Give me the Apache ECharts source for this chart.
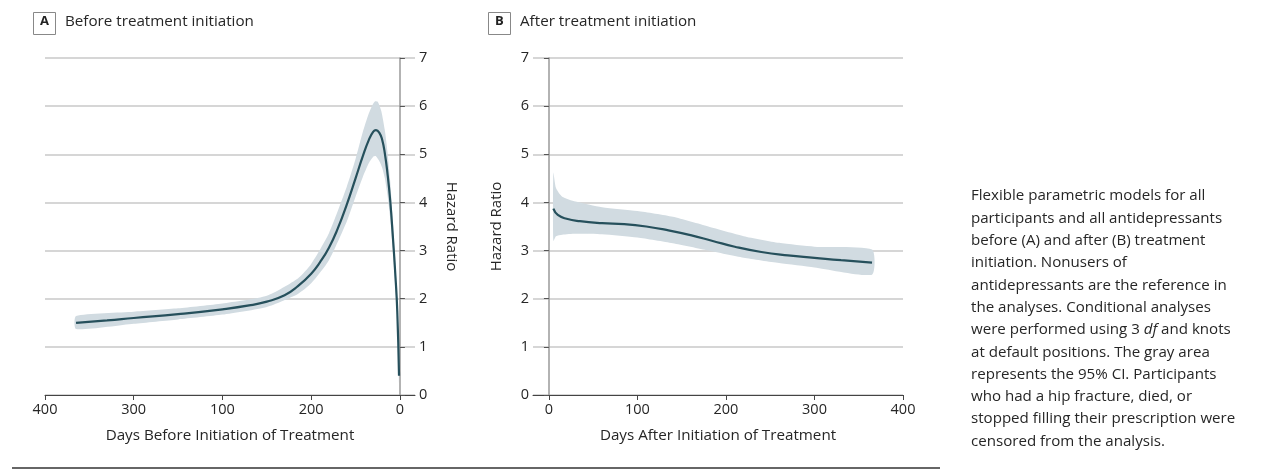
<!DOCTYPE html>
<html>
<head>
<meta charset="utf-8">
<script src="https://cdn.jsdelivr.net/npm/echarts@6/dist/echarts.min.js"></script>
<style>
  html, body { margin: 0; padding: 0; background: #fff; }
  #chart { width: 1267px; height: 469px; }
</style>
</head>
<body>
<div id="chart"></div>
<script>
// panel A: days before treatment, hazard ratio
var beforeLine = [[365,1.50],[330,1.55],[300,1.60],[250,1.68],[200,1.78],[170,1.86],[150,1.94],[130,2.07],[115,2.26],[100,2.52],[90,2.76],[80,3.06],[70,3.46],[60,3.95],[50,4.50],[42,4.95],[35,5.30],[30,5.47],[27,5.50],[23,5.44],[20,5.30],[17,5.02],[14,4.60],[11,4.05],[8,3.30],[5,2.45],[3,1.75],[1,0.40]];
var beforeUpper = [[365,1.64],[300,1.73],[250,1.80],[200,1.90],[150,2.06],[115,2.42],[100,2.72],[80,3.36],[60,4.32],[50,4.90],[42,5.45],[35,5.85],[31,6.02],[28,6.10],[25,6.09],[21,5.90],[17,5.50],[14,5.05],[11,4.45],[8,3.62],[5,2.70],[3,1.92],[1,0.52]];
var beforeLower = [[365,1.37],[300,1.48],[250,1.57],[200,1.67],[150,1.83],[115,2.10],[100,2.32],[80,2.80],[60,3.60],[50,4.12],[42,4.52],[35,4.82],[30,4.95],[27,4.96],[23,4.85],[20,4.72],[17,4.50],[14,4.15],[11,3.68],[8,3.00],[5,2.20],[3,1.55],[1,0.24]];

// panel B: days after treatment, hazard ratio
var afterLine = [[5,3.87],[10,3.74],[20,3.66],[35,3.61],[60,3.57],[85,3.55],[110,3.50],[135,3.42],[160,3.32],[185,3.20],[210,3.08],[240,2.97],[270,2.90],[300,2.85],[330,2.80],[365,2.75]];
var afterUpper = [[5,4.62],[8,4.30],[15,4.12],[30,4.02],[60,3.90],[100,3.82],[140,3.70],[180,3.50],[220,3.30],[260,3.16],[300,3.08],[365,3.02]];
var afterLower = [[5,3.20],[8,3.30],[15,3.33],[30,3.35],[60,3.34],[100,3.27],[140,3.15],[180,3.00],[220,2.85],[260,2.74],[300,2.65],[365,2.50]];

var tickPos = [0, 100, 200, 300, 400];
var tickLabelsA = ['0', '200', '100', '300', '400'];
var tickLabelsB = ['0', '100', '200', '300', '400'];

var captionLines = [
  'Flexible parametric models for all',
  'participants and all antidepressants',
  'before (A) and after (B) treatment',
  'initiation. Nonusers of',
  'antidepressants are the reference in',
  'the analyses. Conditional analyses',
  'were performed using 3 {i|df} and knots',
  'at default positions. The gray area',
  'represents the 95% CI. Participants',
  'who had a hip fracture, died, or',
  'stopped filling their prescription were',
  'censored from the analysis.'
];

var font = 'Open Sans';
var txt = '#262626';
var lineColor = '#26505c';
var bandColor = '#d1dbe1';

function bandSeries(idx, upper, lower) {
  return {
    type: 'custom',
    xAxisIndex: idx, yAxisIndex: idx,
    silent: true,
    data: [[0, 0]],
    renderItem: function (params, api) {
      var pts = upper.map(function (p) { return api.coord(p); })
        .concat(lower.slice().reverse().map(function (p) { return api.coord(p); }));
      return { type: 'polygon', shape: { points: pts, smooth: 0.2 }, style: { fill: bandColor } };
    }
  };
}

function xAxisOf(idx, labels, name, min, inverse) {
  return {
    type: 'value', gridIndex: idx, min: min, max: 400, inverse: inverse,
    name: name, nameLocation: 'middle', nameGap: 33,
    nameTextStyle: { fontFamily: font, fontSize: 15.2, color: txt },
    axisLine: { lineStyle: { color: '#444', width: 1 } },
    axisTick: { customValues: tickPos, length: 5, lineStyle: { color: '#444' } },
    axisLabel: {
      customValues: tickPos, margin: 7, fontFamily: font, fontSize: 14.5, color: txt,
      formatter: function (v) { return labels[tickPos.indexOf(v)]; }
    },
    splitLine: { show: false }
  };
}

function yAxisOf(idx, pos, rot) {
  return {
    type: 'value', gridIndex: idx, position: pos, min: 0, max: 7, interval: 1,
    name: 'Hazard Ratio', nameLocation: 'middle', nameGap: 29, nameRotate: rot,
    nameTextStyle: { fontFamily: font, fontSize: 15, color: txt },
    axisLine: { show: true, lineStyle: { color: '#9a9a9a', width: 1.5 } },
    axisTick: { show: true, length: 5, lineStyle: { color: '#555' } },
    axisLabel: { margin: 4, fontFamily: font, fontSize: 14.5, color: txt },
    splitLine: { lineStyle: { color: '#d6d6d6', width: 2 } }
  };
}

function panelLabel(x, letter, title) {
  return [
    { type: 'rect', left: x, top: 12, shape: { width: 22, height: 22 },
      style: { fill: '#fff', stroke: '#888', lineWidth: 1 } },
    { type: 'text', left: x + 7, top: 15,
      style: { text: letter, font: 'bold 13px ' + font, fill: '#222' } },
    { type: 'text', left: x + 32, top: 14,
      style: { text: title, font: '15.2px ' + font, fill: txt } }
  ];
}

var chart = echarts.init(document.getElementById('chart'));
chart.setOption({
  animation: false,
  grid: [
    { left: 45, top: 58, width: 370, height: 337 },
    { left: 533, top: 58, width: 370, height: 337 }
  ],
  xAxis: [
    xAxisOf(0, tickLabelsA, 'Days Before Initiation of Treatment', -17, true),
    xAxisOf(1, tickLabelsB, 'Days After Initiation of Treatment', -18, false)
  ],
  yAxis: [
    yAxisOf(0, 'right', -90),
    yAxisOf(1, 'left', 90)
  ],
  series: [
    bandSeries(0, beforeUpper, beforeLower),
    { type: 'line', xAxisIndex: 0, yAxisIndex: 0, data: beforeLine, smooth: true,
      showSymbol: false, lineStyle: { color: lineColor, width: 2.2 } },
    bandSeries(1, afterUpper, afterLower),
    { type: 'line', xAxisIndex: 1, yAxisIndex: 1, data: afterLine, smooth: true,
      showSymbol: false, lineStyle: { color: lineColor, width: 2.2 } }
  ],
  graphic: panelLabel(33, 'A', 'Before treatment initiation')
    .concat(panelLabel(488, 'B', 'After treatment initiation'))
    .concat([
      { type: 'line', shape: { x1: 12, y1: 468, x2: 940, y2: 468 },
        style: { stroke: '#333', lineWidth: 1.5 } },
      { type: 'text', left: 971, top: 185,
        style: {
          text: captionLines.join('\n'), font: '15.1px ' + font, fill: txt, lineHeight: 22.3,
          rich: { i: { fontStyle: 'italic', fontFamily: font, fontSize: 15.1, fill: txt, lineHeight: 22.3 } }
        } }
    ])
});
</script>
</body>
</html>
